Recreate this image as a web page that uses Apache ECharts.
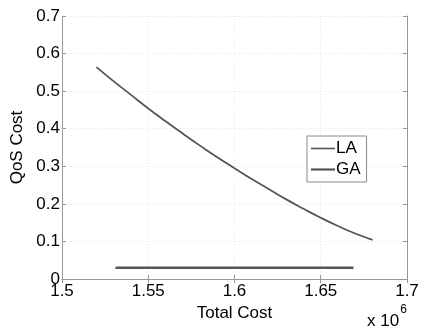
<!DOCTYPE html>
<html lang="en">
<head>
  <meta charset="UTF-8">
  <title>QoS Cost vs Total Cost</title>
  <style>
    html, body { margin: 0; padding: 0; background: #fff; }
    #chart { width: 432px; height: 329px; }
  </style>
</head>
<body>
  <div id="chart"></div>
  <script src="https://cdn.jsdelivr.net/npm/echarts@6/dist/echarts.min.js"></script>
  <script>
    // total cost in units of 10^6
    const laCost = [1.52, 1.53, 1.54, 1.55, 1.56, 1.57, 1.58, 1.59, 1.60, 1.61, 1.62, 1.63, 1.64, 1.65, 1.66, 1.67, 1.68];
    const laQos = [0.564, 0.526, 0.490, 0.454, 0.420, 0.387, 0.355, 0.324, 0.295, 0.266, 0.239, 0.212, 0.187, 0.163, 0.141, 0.121, 0.104];
    const gaCost = [1.531, 1.669];
    const gaQos = [0.03, 0.03];

    const font = 'Liberation Sans, Arial, sans-serif';
    const pairs = (xs, ys) => xs.map((x, i) => [x, ys[i]]);

    const grid = { left: 62, right: 25, top: 16, bottom: 50 };
    const gridLine = { show: true, lineStyle: { color: '#e6e6e6', type: [1, 2], width: 1 } };
    const frame = { show: true, lineStyle: { color: '#999', width: 1 } };

    const chart = echarts.init(document.getElementById('chart'));
    chart.setOption({
      animation: false,
      textStyle: { fontFamily: font },
      grid: grid,
      legend: {
        orient: 'vertical',
        left: 307,
        top: 136,
        width: 60,
        padding: [4, 6, 4, 4],
        itemGap: 4,
        itemWidth: 24,
        itemHeight: 15,
        backgroundColor: '#fff',
        borderColor: '#888',
        borderWidth: 1,
        textStyle: { fontSize: 17, color: '#000', padding: [0, 0, 0, -4] },
        data: [
          { name: 'LA', icon: 'path://M0,0 L24,0 L24,1.6 L0,1.6 Z' },
          { name: 'GA', icon: 'path://M0,0 L24,0 L24,2.2 L0,2.2 Z' }
        ]
      },
      xAxis: [
        {
          type: 'value', min: 1.5, max: 1.7, interval: 0.05,
          axisLine: frame,
          axisTick: { show: true, inside: true, length: 4, lineStyle: { color: '#999' } },
          axisLabel: { color: '#000', fontSize: 17, margin: 4 },
          splitLine: gridLine,
          name: 'Total Cost', nameLocation: 'middle', nameGap: 24,
          nameTextStyle: { color: '#000', fontSize: 17 }
        },
        {
          type: 'value', position: 'top', min: 1.5, max: 1.7, interval: 0.05,
          axisLine: frame,
          axisTick: { show: true, inside: true, length: 4, lineStyle: { color: '#999' } },
          axisLabel: { show: false },
          splitLine: { show: false }
        }
      ],
      yAxis: [
        {
          type: 'value', min: 0, max: 0.7, interval: 0.1,
          axisLine: frame,
          axisTick: { show: true, inside: true, length: 4, lineStyle: { color: '#999' } },
          axisLabel: { color: '#000', fontSize: 17, margin: 2 },
          splitLine: gridLine,
          name: 'QoS Cost', nameLocation: 'middle', nameGap: 36, nameRotate: 90,
          nameTextStyle: { color: '#000', fontSize: 17 }
        },
        {
          type: 'value', position: 'right', min: 0, max: 0.7, interval: 0.1,
          axisLine: frame,
          axisTick: { show: true, inside: true, length: 4, lineStyle: { color: '#999' } },
          axisLabel: { show: false },
          splitLine: { show: false }
        }
      ],
      graphic: [
        {
          type: 'text', left: 367, top: 304,
          style: {
            text: '{b|x 10}{s|6}',
            rich: {
              b: { fontSize: 17, fontFamily: font, fill: '#000', padding: [9, 0, 0, 0] },
              s: { fontSize: 12, fontFamily: font, fill: '#000', verticalAlign: 'top', padding: [0, 0, 9, 1] }
            }
          }
        }
      ],
      series: [
        {
          name: 'LA', type: 'line', data: pairs(laCost, laQos),
          showSymbol: false, smooth: true, color: '#555',
          lineStyle: { color: '#555', width: 1.8 }
        },
        {
          name: 'GA', type: 'line', data: pairs(gaCost, gaQos),
          showSymbol: false, color: '#555',
          lineStyle: { color: '#555', width: 2.6 }
        }
      ]
    });
  </script>
</body>
</html>
